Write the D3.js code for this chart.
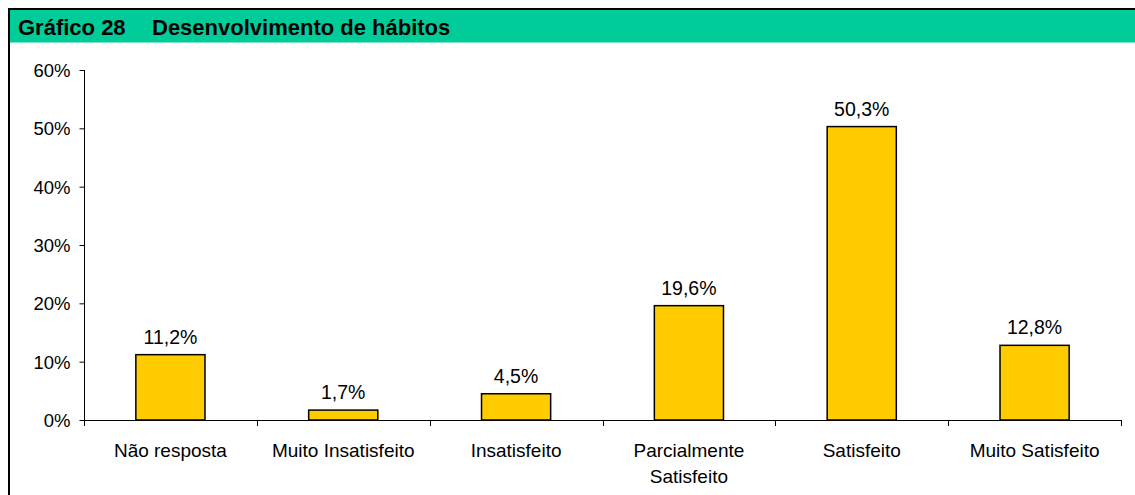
<!DOCTYPE html>
<html>
<head>
<meta charset="utf-8">
<script src="https://d3js.org/d3.v7.min.js"></script>
<style>
  body { margin: 0; background: #fff; }
  text { font-family: "Liberation Sans", Arial, sans-serif; fill: #000; }
</style>
</head>
<body>
<svg id="chart" width="1135" height="495"></svg>
<script>
var categories = [["Não resposta"], ["Muito Insatisfeito"], ["Insatisfeito"],
                  ["Parcialmente", "Satisfeito"], ["Satisfeito"], ["Muito Satisfeito"]];
var values = [11.2, 1.7, 4.5, 19.6, 50.3, 12.8];
var yTicks = [0, 10, 20, 30, 40, 50, 60];

var svg = d3.select("#chart");

// frame + header band
svg.append("rect").attr("x", 0).attr("y", 0).attr("width", 1135).attr("height", 495).attr("fill", "#fff");
svg.append("rect").attr("x", 10).attr("y", 10).attr("width", 1125).attr("height", 33).attr("fill", "#00CC99");
svg.append("line").attr("x1", 10).attr("x2", 1135).attr("y1", 42.5).attr("y2", 42.5)
    .style("stroke", "#7fe3c8").style("stroke-width", 1);
svg.append("line").attr("x1", 8).attr("x2", 1135).attr("y1", 9).attr("y2", 9)
    .style("stroke", "#000").style("stroke-width", 2);
svg.append("line").attr("x1", 9).attr("x2", 9).attr("y1", 8).attr("y2", 495)
    .style("stroke", "#000").style("stroke-width", 2);

svg.append("text").attr("x", 18).attr("y", 35)
    .style("font-size", "22px").style("font-weight", "bold").text("Gráfico 28");
svg.append("text").attr("x", 152).attr("y", 35)
    .style("font-size", "22px").style("font-weight", "bold").text("Desenvolvimento de hábitos");

var x = d3.scaleBand().domain(d3.range(values.length)).range([84, 1121]).padding(0);
var y = d3.scaleLinear().domain([0, 60]).range([420, 70]);

// y axis
var yAxis = svg.append("g").attr("transform", "translate(84.5,0)")
    .call(d3.axisLeft(y).tickValues(yTicks).tickSize(5).tickPadding(9).tickFormat(function (d) { return d + "%"; }));
yAxis.select(".domain").attr("d", "M0," + y(60) + "V" + y(0));
yAxis.selectAll("line").style("stroke", "#000");
yAxis.selectAll("path").style("stroke", "#000");
yAxis.selectAll("text").style("font-size", "18.5px").style("font-family", "Liberation Sans, Arial, sans-serif").attr("dy", "0.35em");

// bars
var bw = x.bandwidth() * 0.4;
svg.selectAll(".bar").data(values).enter().append("rect")
    .attr("x", function (d, i) { return x(i) + x.bandwidth() / 2 - bw / 2; })
    .attr("y", function (d) { return y(d); })
    .attr("width", bw)
    .attr("height", function (d) { return y(0) - y(d); })
    .attr("fill", "#FFCC00")
    .style("stroke", "#000").style("stroke-width", 1.5);

// value labels
svg.selectAll(".lbl").data(values).enter().append("text")
    .attr("x", function (d, i) { return x(i) + x.bandwidth() / 2; })
    .attr("y", function (d) { return y(d) - 11; })
    .attr("text-anchor", "middle").style("font-size", "19.5px")
    .text(function (d) { return d.toFixed(1).replace(".", ",") + "%"; });

// x axis
var xAxis = svg.append("g");
xAxis.append("line").attr("x1", 84).attr("x2", 1121).attr("y1", 420.5).attr("y2", 420.5)
    .style("stroke", "#000").style("stroke-width", 1);
var bounds = d3.range(values.length + 1).map(function (i) { return i < values.length ? x(i) : x.range()[1]; });
xAxis.selectAll(".tk").data(bounds).enter().append("line")
    .attr("x1", function (d) { return Math.round(d) + 0.5; })
    .attr("x2", function (d) { return Math.round(d) + 0.5; })
    .attr("y1", 420).attr("y2", 426)
    .style("stroke", "#000");

var cat = xAxis.selectAll(".cat").data(categories).enter().append("text")
    .attr("text-anchor", "middle").style("font-size", "19px");
cat.each(function (lines, i) {
    var t = d3.select(this);
    lines.forEach(function (s, j) {
        t.append("tspan").attr("x", x(i) + x.bandwidth() / 2).attr("y", 457 + j * 26).text(s);
    });
});
</script>
</body>
</html>
